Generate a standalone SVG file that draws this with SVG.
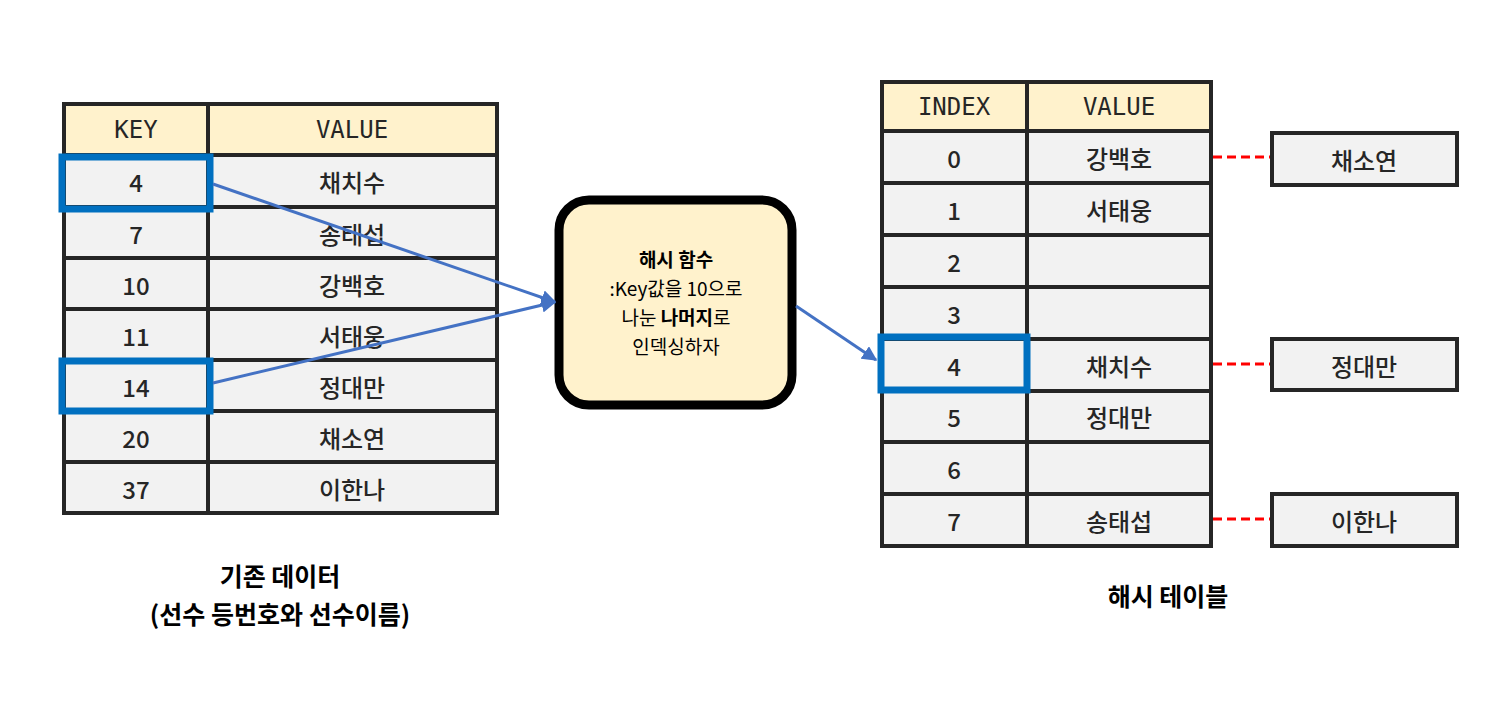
<svg xmlns="http://www.w3.org/2000/svg" width="1487" height="713" viewBox="0 0 1487 713">
<defs>
<style>
.c{fill:#f2f2f2;stroke:#262626;stroke-width:4}
.h{fill:#fff2cc;stroke:#262626;stroke-width:4}
.ht{font-family:"DejaVu Sans Mono",monospace;font-size:24px;fill:#262626;text-anchor:middle;dominant-baseline:central}
.t{font-family:"Noto Sans CJK KR",sans-serif;font-size:24px;font-weight:500;fill:#262626;text-anchor:middle;dominant-baseline:central}
.hl{fill:none;stroke:#0070c0;stroke-width:7}
.ar{stroke:#4472c4;stroke-width:3;fill:none}
.d{stroke:#ff0000;stroke-width:3;stroke-dasharray:9 5}
.cap{font-family:"Noto Sans CJK KR",sans-serif;font-size:25px;font-weight:bold;fill:#000;text-anchor:middle}
.f{font-family:"Noto Sans CJK KR",sans-serif;font-size:19px;fill:#000;text-anchor:middle}
</style>
<marker id="a" viewBox="0 0 10 10" refX="9" refY="5" markerWidth="5" markerHeight="5" orient="auto"><path d="M0,0L10,5L0,10z" fill="#4472c4"/></marker>
</defs>
<rect width="1487" height="713" fill="#fff"/>
<g id="left-table">
<rect class="h" x="64" y="104" width="144" height="51"/><rect class="h" x="208" y="104" width="289" height="51"/>
<text class="ht" x="136" y="130">KEY</text><text class="ht" x="352" y="130">VALUE</text>
<g>
<rect class="c" x="64" y="155" width="144" height="52"/><rect class="c" x="208" y="155" width="289" height="52"/>
<rect class="c" x="64" y="207" width="144" height="51"/><rect class="c" x="208" y="207" width="289" height="51"/>
<rect class="c" x="64" y="258" width="144" height="51"/><rect class="c" x="208" y="258" width="289" height="51"/>
<rect class="c" x="64" y="309" width="144" height="51"/><rect class="c" x="208" y="309" width="289" height="51"/>
<rect class="c" x="64" y="360" width="144" height="51"/><rect class="c" x="208" y="360" width="289" height="51"/>
<rect class="c" x="64" y="411" width="144" height="51"/><rect class="c" x="208" y="411" width="289" height="51"/>
<rect class="c" x="64" y="462" width="144" height="51"/><rect class="c" x="208" y="462" width="289" height="51"/>
</g>
<text class="t" x="136" y="181">4</text><text class="t" x="352" y="181">채치수</text>
<text class="t" x="136" y="233">7</text><text class="t" x="352" y="233">송태섭</text>
<text class="t" x="136" y="284">10</text><text class="t" x="352" y="284">강백호</text>
<text class="t" x="136" y="335">11</text><text class="t" x="352" y="335">서태웅</text>
<text class="t" x="136" y="386">14</text><text class="t" x="352" y="386">정대만</text>
<text class="t" x="136" y="437">20</text><text class="t" x="352" y="437">채소연</text>
<text class="t" x="136" y="488">37</text><text class="t" x="352" y="488">이한나</text>
<rect class="hl" x="62" y="157" width="148" height="52"/>
<rect class="hl" x="62" y="361" width="148" height="50"/>
<text class="cap" x="280" y="586">기존 데이터</text>
<text class="cap" x="280" y="624">(선수 등번호와 선수이름)</text>
</g>
<g id="hash-function">
<rect x="559" y="200" width="233" height="205" rx="30" fill="#fff2cc" stroke="#000" stroke-width="9"/>
<text class="f" x="676" y="267" font-weight="bold">해시 함수</text>
<text class="f" x="676" y="296">:Key값을 10으로</text>
<text class="f" x="676" y="325">나눈 <tspan font-weight="bold">나머지</tspan>로</text>
<text class="f" x="676" y="354">인덱싱하자</text>
</g>
<g id="right-table">
<rect class="h" x="882" y="82" width="145" height="49"/><rect class="h" x="1027" y="82" width="184" height="49"/>
<text class="ht" x="954" y="107">INDEX</text><text class="ht" x="1119" y="107">VALUE</text>
<rect class="c" x="882" y="131" width="145" height="52"/><rect class="c" x="1027" y="131" width="184" height="52"/>
<rect class="c" x="882" y="183" width="145" height="52"/><rect class="c" x="1027" y="183" width="184" height="52"/>
<rect class="c" x="882" y="235" width="145" height="52"/><rect class="c" x="1027" y="235" width="184" height="52"/>
<rect class="c" x="882" y="287" width="145" height="52"/><rect class="c" x="1027" y="287" width="184" height="52"/>
<rect class="c" x="882" y="339" width="145" height="52"/><rect class="c" x="1027" y="339" width="184" height="52"/>
<rect class="c" x="882" y="391" width="145" height="51"/><rect class="c" x="1027" y="391" width="184" height="51"/>
<rect class="c" x="882" y="442" width="145" height="52"/><rect class="c" x="1027" y="442" width="184" height="52"/>
<rect class="c" x="882" y="494" width="145" height="52"/><rect class="c" x="1027" y="494" width="184" height="52"/>
<text class="t" x="954" y="157">0</text><text class="t" x="1119" y="157">강백호</text>
<text class="t" x="954" y="209">1</text><text class="t" x="1119" y="209">서태웅</text>
<text class="t" x="954" y="261">2</text>
<text class="t" x="954" y="313">3</text>
<text class="t" x="954" y="365">4</text><text class="t" x="1119" y="365">채치수</text>
<text class="t" x="954" y="416">5</text><text class="t" x="1119" y="416">정대만</text>
<text class="t" x="954" y="468">6</text>
<text class="t" x="954" y="520">7</text><text class="t" x="1119" y="520">송태섭</text>
<rect class="hl" x="881" y="337" width="146" height="53"/>
<text class="cap" x="1168" y="606">해시 테이블</text>
</g>
<g id="chain-boxes">
<rect class="c" x="1272" y="133" width="185" height="52"/><text class="t" x="1364" y="159">채소연</text>
<rect class="c" x="1272" y="339" width="185" height="51"/><text class="t" x="1364" y="365">정대만</text>
<rect class="c" x="1272" y="494" width="185" height="52"/><text class="t" x="1364" y="520">이한나</text>
</g>
<g id="connectors">
<line class="ar" x1="213" y1="184" x2="555" y2="302" marker-end="url(#a)"/>
<line class="ar" x1="213" y1="383" x2="555" y2="302" marker-end="url(#a)"/>
<line class="ar" x1="796" y1="306" x2="876" y2="360" marker-end="url(#a)"/>
<line class="d" x1="1213" y1="157" x2="1270" y2="157"/>
<line class="d" x1="1213" y1="364" x2="1270" y2="364"/>
<line class="d" x1="1213" y1="519" x2="1270" y2="519"/>
</g>
</svg>
